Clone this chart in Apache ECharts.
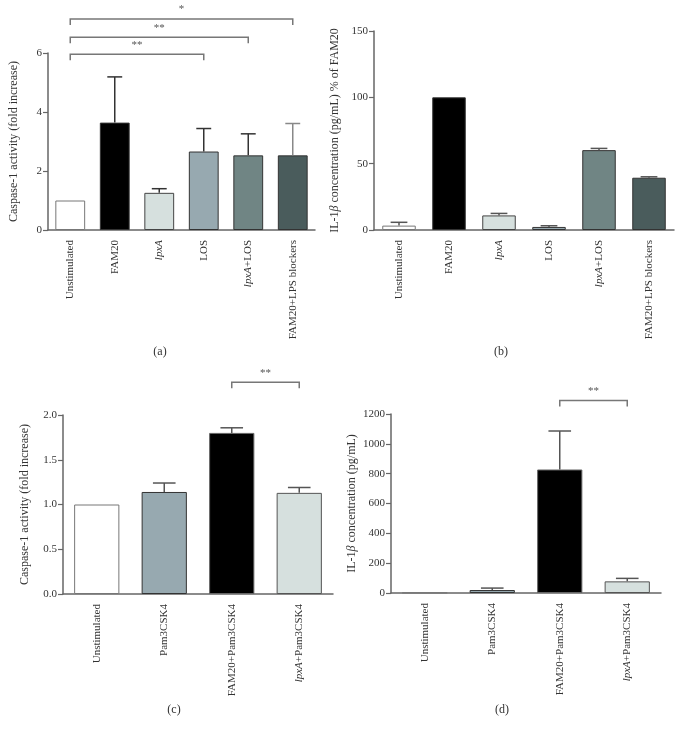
<!DOCTYPE html>
<html><head><meta charset="utf-8">
<script src="https://cdn.jsdelivr.net/npm/echarts@6/dist/echarts.min.js"></script>
<style>html,body{margin:0;padding:0;background:#fff}#c{width:682px;height:730px}</style>
</head><body><div id="c"></div>
<script>
// ---- Data ----
const catsA = ['Unstimulated', 'FAM20', '{i|lpxA}', 'LOS', '{i|lpxA}+LOS', 'FAM20+LPS blockers'];
const valsA = [1.0, 3.64, 1.26, 2.66, 2.53, 2.53];
const errTopA = [1.0, 5.19, 1.40, 3.44, 3.26, 3.61];

const catsB = ['Unstimulated', 'FAM20', '{i|lpxA}', 'LOS', '{i|lpxA}+LOS', 'FAM20+LPS blockers'];
const valsB = [3.3, 100, 11.0, 2.3, 60.2, 39.4];
const errTopB = [5.8, 100, 12.5, 3.2, 61.5, 40.1];

const catsC = ['Unstimulated', 'Pam3CSK4', 'FAM20+Pam3CSK4', '{i|lpxA}+Pam3CSK4'];
const valsC = [1.0, 1.14, 1.80, 1.13];
const errTopC = [1.0, 1.24, 1.857, 1.19];

const catsD = ['Unstimulated', 'Pam3CSK4', 'FAM20+Pam3CSK4', '{i|lpxA}+Pam3CSK4'];
const valsD = [2, 20, 828, 78];
const errTopD = [2, 33, 1086, 98];

// brackets: [fromIndex, toIndex, yValue, text]
const bracketsA = [[0, 3, 5.96, '**'], [0, 4, 6.53, '**'], [0, 5, 7.15, '*']];
const bracketsC = [[2, 3, 2.365, '**']];
const bracketsD = [[2, 3, 1291, '**']];

const yTicksA = {min: 0, max: 6, interval: 2};
const yTicksB = {min: 0, max: 150, interval: 50};
const yTicksC = {min: 0, max: 2, interval: 0.5};
const yTicksD = {min: 0, max: 1200, interval: 200};

// ---- Styles ----
const colorsA = ['#ffffff', '#000000', '#d6e0de', '#97a9b0', '#708584', '#4a5c5c'];
const colorsC = ['#ffffff', '#97a9b0', '#000000', '#d6e0de'];
const borderA = ['#777', '#333', '#444', '#333', '#333', '#333'];
const borderC = ['#777', '#333', '#666', '#555'];
const errColA = ['#333', '#333', '#333', '#333', '#333', '#888'];
const errColB = ['#555', '#555', '#555', '#555', '#555', '#555'];
const errColC = ['#444', '#555', '#555', '#555'];

const FONT = 'Liberation Serif';
const AX = '#666';
const TXT = '#333';

const chart = echarts.init(document.getElementById('c'), null, {renderer: 'canvas'});

function xAxis(cats, gi) {
  return {
    type: 'category', gridIndex: gi, data: cats,
    axisLine: {lineStyle: {color: AX, width: 1.5}},
    axisTick: {alignWithLabel: true, length: 5, lineStyle: {color: AX, width: 1.2}},
    axisLabel: {
      rotate: 90, interval: 0, margin: 10, fontFamily: FONT, fontSize: 11, color: TXT,
      rich: {i: {fontStyle: 'italic', fontFamily: FONT, fontSize: 11, color: TXT}}
    }
  };
}
function yAxis(t, gi, name, gap, fmt) {
  return {
    type: 'value', gridIndex: gi, min: t.min, max: t.max, interval: t.interval,
    name: name, nameLocation: 'middle', nameGap: gap, nameRotate: 90,
    nameTextStyle: {fontFamily: FONT, fontSize: 12, color: TXT,
      rich: {i: {fontStyle: 'italic', fontFamily: FONT, fontSize: 12, color: TXT}}},
    axisLine: {show: true, lineStyle: {color: AX, width: 1.5}},
    axisTick: {show: true, length: 5, lineStyle: {color: AX, width: 1.2}},
    splitLine: {show: false},
    axisLabel: {fontFamily: FONT, fontSize: 11, color: TXT, margin: 6, formatter: fmt || (v => String(v))}
  };
}
function barSeries(vals, colors, borders, gi) {
  return {
    type: 'bar', xAxisIndex: gi, yAxisIndex: gi, barWidth: '67%',
    data: vals.map((v, i) => ({value: v, itemStyle: {color: colors[i], borderColor: borders[i], borderWidth: 1}})),
    z: 2
  };
}
function errSeries(vals, tops, cols, gi) {
  return {
    type: 'custom', xAxisIndex: gi, yAxisIndex: gi, z: 3,
    data: vals.map((v, i) => ({value: [i, v, tops[i]], itemStyle: {color: cols[i]}})),
    renderItem: function (params, api) {
      const x = api.value(0), v = api.value(1), t = api.value(2);
      if (t <= v) return null;
      const p0 = api.coord([x, v]), p1 = api.coord([x, t]);
      const bw = api.size([1, 0])[0] * 0.67;
      const half = bw / 4;
      const col = api.visual('color');
      return {type: 'group', children: [
        {type: 'line', shape: {x1: p0[0], y1: p0[1], x2: p1[0], y2: p1[1]}, style: {stroke: col, lineWidth: 1.5}},
        {type: 'line', shape: {x1: p1[0] - half, y1: p1[1], x2: p1[0] + half, y2: p1[1]}, style: {stroke: col, lineWidth: 1.5}}
      ]};
    }
  };
}
function bracketSeries(br, gi) {
  return {
    type: 'custom', xAxisIndex: gi, yAxisIndex: gi, z: 4, clip: false,
    data: br.map(b => ({value: [b[0], b[1], b[2]], name: b[3]})),
    renderItem: function (params, api) {
      const a = api.value(0), b = api.value(1), y = api.value(2);
      const p1 = api.coord([a, y]), p2 = api.coord([b, y]);
      const drop = 6;
      const txt = br[params.dataIndex][3];
      return {type: 'group', children: [
        {type: 'polyline', shape: {points: [[p1[0], p1[1] + drop], [p1[0], p1[1]], [p2[0], p2[1]], [p2[0], p2[1] + drop]]},
          style: {stroke: '#777', lineWidth: 1.5, fill: null}},
        {type: 'text', style: {x: (p1[0] + p2[0]) / 2, y: p1[1] - 4, text: txt, fill: '#555',
          font: '11px ' + FONT, textAlign: 'center', textVerticalAlign: 'bottom'}}
      ]};
    }
  };
}

const option = {
  animation: false,
  backgroundColor: '#fff',
  grid: [
    {left: 48, top: 53, width: 267, height: 177},
    {left: 374, top: 31, width: 300, height: 199},
    {left: 63, top: 415, width: 270, height: 179},
    {left: 391, top: 414, width: 270, height: 179}
  ],
  xAxis: [xAxis(catsA, 0), xAxis(catsB, 1), xAxis(catsC, 2), xAxis(catsD, 3)],
  yAxis: [
    yAxis(yTicksA, 0, 'Caspase-1 activity (fold increase)', 28),
    yAxis(yTicksB, 1, 'IL-1{i|β} concentration (pg/mL) % of FAM20', 33),
    yAxis(yTicksC, 2, 'Caspase-1 activity (fold increase)', 32, v => v.toFixed(1)),
    yAxis(yTicksD, 3, 'IL-1{i|β} concentration (pg/mL)', 33)
  ],
  series: [
    barSeries(valsA, colorsA, borderA, 0), errSeries(valsA, errTopA, errColA, 0), bracketSeries(bracketsA, 0),
    barSeries(valsB, colorsA, borderA, 1), errSeries(valsB, errTopB, errColB, 1),
    barSeries(valsC, colorsC, borderC, 2), errSeries(valsC, errTopC, errColC, 2), bracketSeries(bracketsC, 2),
    barSeries(valsD, colorsC, borderC, 3), errSeries(valsD, errTopD, errColC, 3), bracketSeries(bracketsD, 3)
  ],
  graphic: [
    {type: 'text', x: 160, y: 352, style: {text: '(a)', font: '12px ' + FONT, fill: TXT, textAlign: 'center', textVerticalAlign: 'middle'}},
    {type: 'text', x: 501, y: 352, style: {text: '(b)', font: '12px ' + FONT, fill: TXT, textAlign: 'center', textVerticalAlign: 'middle'}},
    {type: 'text', x: 174, y: 710, style: {text: '(c)', font: '12px ' + FONT, fill: TXT, textAlign: 'center', textVerticalAlign: 'middle'}},
    {type: 'text', x: 502, y: 710, style: {text: '(d)', font: '12px ' + FONT, fill: TXT, textAlign: 'center', textVerticalAlign: 'middle'}}
  ]
};
chart.setOption(option);
</script>
</body></html>
